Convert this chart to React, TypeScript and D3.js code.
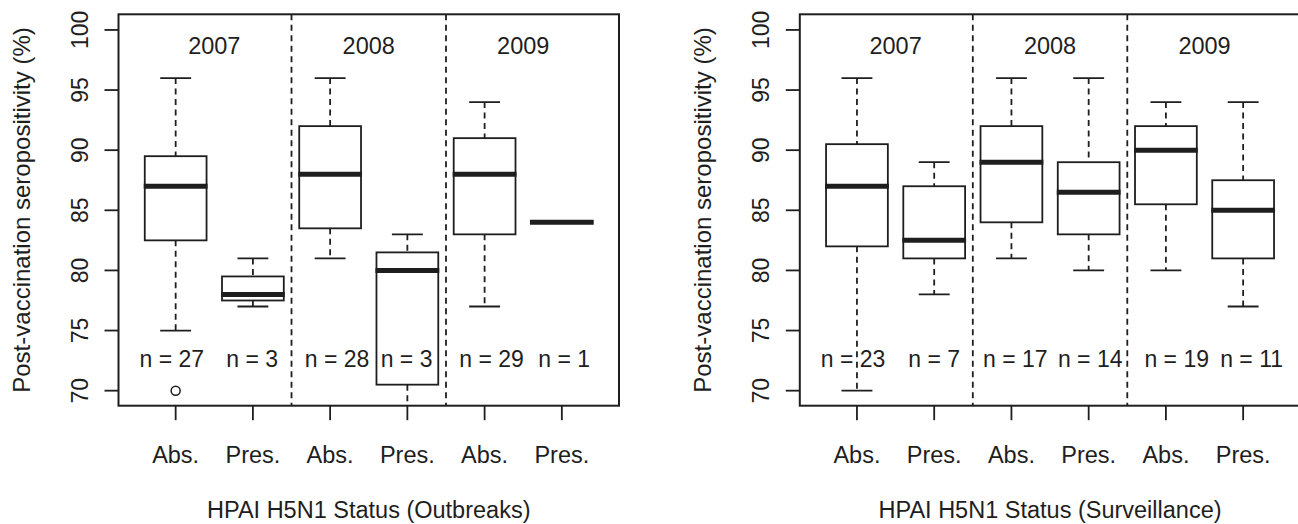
import React from "react";
import * as d3 from "d3";

const years = ["2007", "2008", "2009"];
const yearPos = [1.5, 3.5, 5.5];
const statusLabels = ["Abs.", "Pres.", "Abs.", "Pres.", "Abs.", "Pres."];
const yTickValues = [70, 75, 80, 85, 90, 95, 100];
const dividerPos = [2.5, 4.5];

// [lower whisker, Q1, median, Q3, upper whisker]
const outbreakStats = [
  [75, 82.5, 87, 89.5, 96],
  [77, 77.5, 78, 79.5, 81],
  [81, 83.5, 88, 92, 96],
  [61, 70.5, 80, 81.5, 83],
  [77, 83, 88, 91, 94],
  [84, 84, 84, 84, 84],
];
const outbreakOutliers = [[70], [], [], [], [], []];
const outbreakN = [27, 3, 28, 3, 29, 1];
const outbreakNPos = [0.95, 1.99, 3.09, 3.99, 5.09, 6.03];

const surveillanceStats = [
  [70, 82, 87, 90.5, 96],
  [78, 81, 82.5, 87, 89],
  [81, 84, 89, 92, 96],
  [80, 83, 86.5, 89, 96],
  [80, 85.5, 90, 92, 94],
  [77, 81, 85, 87.5, 94],
];
const surveillanceOutliers = [[], [], [], [], [], []];
const surveillanceN = [23, 7, 17, 14, 19, 11];
const surveillanceNPos = [0.95, 2.0, 3.05, 4.02, 5.14, 6.11];

const FONT = "'Liberation Sans', Arial, Helvetica, sans-serif";
const INK = "#1e1e1e";
const TOP = 14.3;
const BOTTOM = 405.7;

type PanelProps = {
  id: string;
  left: number;
  right: number;
  stats: number[][];
  outliers: number[][];
  ns: number[];
  nPos: number[];
  title: string;
};

function Panel({ id, left, right, stats, outliers, ns, nPos, title }: PanelProps) {
  const x = d3.scaleLinear().domain([0.26, 6.74]).range([left, right]);
  const y = d3.scaleLinear().domain([68.75, 101.3]).range([BOTTOM, TOP]);
  const halfBox = 0.4;
  const halfStaple = 0.2;
  const bw = x(halfBox) - x(0);
  const sw = x(halfStaple) - x(0);
  const cy = (TOP + BOTTOM) / 2;
  const cx = (left + right) / 2;
  return (
    <g>
      <defs>
        <clipPath id={id}>
          <rect x={left} y={TOP} width={right - left} height={BOTTOM - TOP} />
        </clipPath>
      </defs>
      <g clipPath={`url(#${id})`}>
        {dividerPos.map((d, i) => (
          <line key={"d" + i} x1={x(d)} x2={x(d)} y1={TOP} y2={BOTTOM} stroke={INK} strokeWidth={1.8} strokeDasharray="6 4.5" />
        ))}
        {stats.map((s, i) => {
          const px = x(i + 1);
          const [lo, q1, med, q3, hi] = s;
          return (
            <g key={"b" + i}>
              <line x1={px} x2={px} y1={y(hi)} y2={y(q3)} stroke={INK} strokeWidth={1.8} strokeDasharray="6 4.5" />
              <line x1={px} x2={px} y1={y(q1)} y2={y(lo)} stroke={INK} strokeWidth={1.8} strokeDasharray="6 4.5" />
              <line x1={px - sw} x2={px + sw} y1={y(hi)} y2={y(hi)} stroke={INK} strokeWidth={1.8} />
              <line x1={px - sw} x2={px + sw} y1={y(lo)} y2={y(lo)} stroke={INK} strokeWidth={1.8} />
              <rect x={px - bw} y={y(q3)} width={2 * bw} height={y(q1) - y(q3)} fill="white" stroke={INK} strokeWidth={1.8} />
              <line x1={px - bw - 1} x2={px + bw + 1} y1={y(med)} y2={y(med)} stroke={INK} strokeWidth={5} />
              {outliers[i].map((o, j) => (
                <circle key={j} cx={px} cy={y(o)} r={4.5} fill="none" stroke={INK} strokeWidth={1.5} />
              ))}
            </g>
          );
        })}
        {years.map((yr, i) => (
          <text key={"y" + i} x={x(yearPos[i])} y={y(98)} textAnchor="middle" fontSize={23.5} fontFamily={FONT} fill={INK}>
            {yr}
          </text>
        ))}
        {ns.map((n, i) => (
          <text key={"n" + i} x={x(nPos[i])} y={y(72)} textAnchor="middle" fontSize={23} fontFamily={FONT} fill={INK}>
            {`n = ${n}`}
          </text>
        ))}
      </g>
      <rect x={left} y={TOP} width={right - left} height={BOTTOM - TOP} fill="none" stroke={INK} strokeWidth={2} />
      {yTickValues.map((t) => (
        <g key={"yt" + t}>
          <line x1={left - 14} x2={left} y1={y(t)} y2={y(t)} stroke={INK} strokeWidth={1.8} />
          <text transform={`translate(${left - 30.5},${y(t)}) rotate(-90)`} textAnchor="middle" fontSize={23} fontFamily={FONT} fill={INK}>
            {t}
          </text>
        </g>
      ))}
      {statusLabels.map((lab, i) => (
        <g key={"xt" + i}>
          <line x1={x(i + 1)} x2={x(i + 1)} y1={BOTTOM} y2={BOTTOM + 14.5} stroke={INK} strokeWidth={1.8} />
          <text x={x(i + 1)} y={463} textAnchor="middle" fontSize={23.5} fontFamily={FONT} fill={INK}>
            {lab}
          </text>
        </g>
      ))}
      <text x={cx} y={518} textAnchor="middle" fontSize={23.5} fontFamily={FONT} fill={INK}>
        {title}
      </text>
      <text transform={`translate(${left - 88.5},${cy}) rotate(-90)`} textAnchor="middle" fontSize={24} fontFamily={FONT} fill={INK}>
        Post-vaccination seropositivity (%)
      </text>
    </g>
  );
}

export default function App() {
  return (
    <svg width={1298} height={524} style={{ position: "absolute", left: 0, top: 0, background: "white" }}>
      <rect width={1298} height={524} fill="white" />
      <Panel
        id="clipA"
        left={118.5}
        right={619}
        stats={outbreakStats}
        outliers={outbreakOutliers}
        ns={outbreakN}
        nPos={outbreakNPos}
        title="HPAI H5N1 Status (Outbreaks)"
      />
      <Panel
        id="clipB"
        left={799.8}
        right={1300.3}
        stats={surveillanceStats}
        outliers={surveillanceOutliers}
        ns={surveillanceN}
        nPos={surveillanceNPos}
        title="HPAI H5N1 Status (Surveillance)"
      />
    </svg>
  );
}
